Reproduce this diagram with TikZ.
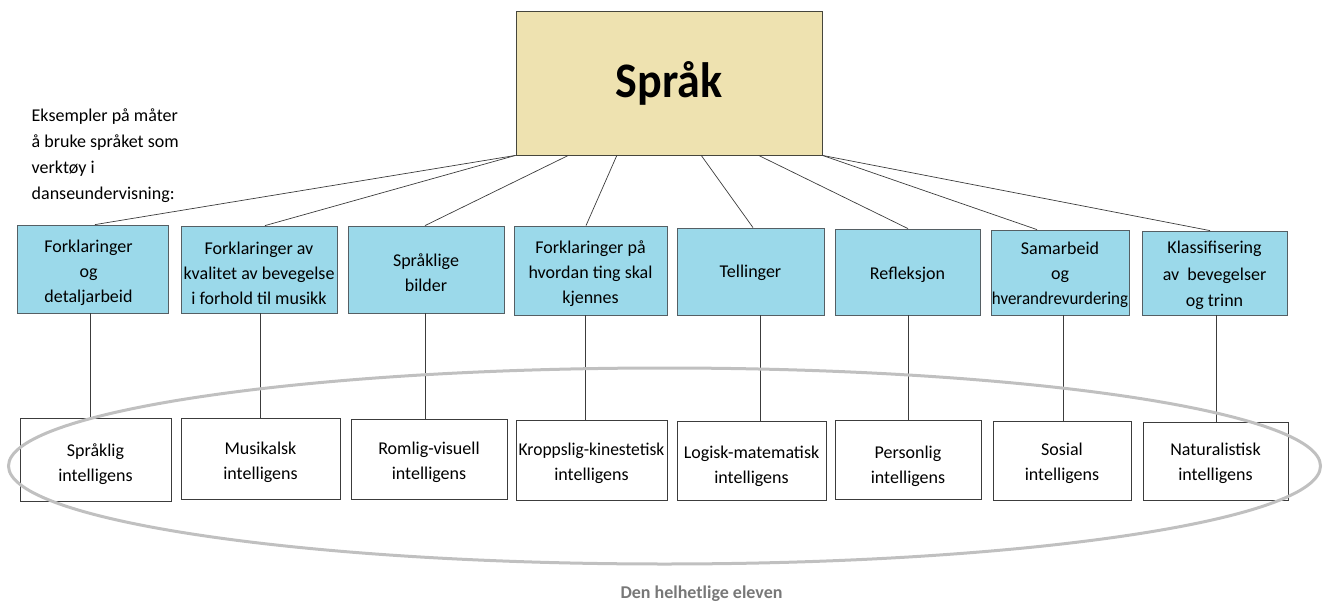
\documentclass[tikz,border=0pt]{standalone}
\usepackage{fontspec}
\setmainfont{Carlito}
\usetikzlibrary{calc}
\definecolor{topfill}{RGB}{238,226,176}
\definecolor{topline}{RGB}{70,70,60}
\definecolor{bluefill}{RGB}{155,217,234}
\definecolor{blueline}{RGB}{85,95,100}
\definecolor{intline}{RGB}{60,60,60}
\definecolor{connline}{RGB}{60,60,60}
\definecolor{ellgray}{RGB}{192,192,192}
\definecolor{labgray}{RGB}{120,120,120}
\begin{document}
\begin{tikzpicture}[x=1pt,y=-1pt,
  topbox/.style={draw=topline, fill=topfill, line width=0.8pt, minimum width=306pt, minimum height=144pt, inner sep=0pt, font=\fontsize{46}{50}\selectfont\bfseries},
  bluebox/.style={draw=blueline, fill=bluefill, line width=0.8pt, inner sep=0pt},
  intbox/.style={draw=intline, fill=white, line width=0.8pt, inner sep=0pt},
  boxtext/.style={inner sep=0pt, align=center, font=\fontsize{18}{25}\selectfont},
  conn/.style={draw=connline, line width=0.7pt},
  note/.style={inner sep=0pt, align=left, font=\fontsize{18}{25.7}\selectfont},
  whole/.style={draw=ellgray, line width=3pt},
  wholelabel/.style={inner sep=0pt, text=labgray, font=\fontsize{18}{22}\selectfont\bfseries}
]
\useasboundingbox (0,0) rectangle (1323,605);

% top box
\node[topbox] (top) at (669,83) {\scalebox{1}[1.08]{Språk}};

% note
\node[note, anchor=north west] (note) at (31.5,109) {Eksempler på måter\\å bruke språket som\\verktøy i\\danseundervisning:};

% blue boxes
\node[bluebox, minimum width=151pt, minimum height=88pt] (b1) at (92.5,269) {};
\node[bluebox, minimum width=156pt, minimum height=87pt] (b2) at (259,269.5) {};
\node[bluebox, minimum width=156pt, minimum height=87pt] (b3) at (426,269.5) {};
\node[bluebox, minimum width=153pt, minimum height=89pt] (b4) at (590.5,270.5) {};
\node[bluebox, minimum width=147pt, minimum height=87pt] (b5) at (750.5,271.5) {};
\node[bluebox, minimum width=145pt, minimum height=86pt] (b6) at (907.5,272) {};
\node[bluebox, minimum width=138pt, minimum height=85pt] (b7) at (1060,272.5) {};
\node[bluebox, minimum width=145pt, minimum height=84pt] (b8) at (1214.5,273) {};

\node[boxtext] (t1) at ([xshift=-4pt,yshift=-3.5pt]b1.center) {Forklaringer\\og\\detaljarbeid};
\node[boxtext] (t2) at ([yshift=-3.5pt]b2.center) {Forklaringer av\\kvalitet av bevegelse\\i forhold til musikk};
\node[boxtext] (t3) at ([yshift=-3.5pt]b3.center) {Språklige\\bilder};
\node[boxtext] (t4) at ([yshift=-3pt]b4.center) {Forklaringer på\\hvordan ting skal\\kjennes};
\node[boxtext] (t5) at ([yshift=-1.5pt]b5.center) {Tellinger};
\node[boxtext] (t6) at ([yshift=-2.5pt]b6.center) {Refleksjon};
\node[boxtext] (t7) at ([yshift=-2pt]b7.center) {Samarbeid\\og\\\scalebox{0.94}[1]{hverandrevurdering}};
\node[boxtext, font=\fontsize{18}{26.5}\selectfont] (t8) at ([yshift=-2.5pt]b8.center) {Klassifisering\\av\ \ bevegelser\\og trinn};

% intelligence boxes
\node[intbox, minimum width=151pt, minimum height=83pt] (i1) at (95.5,459.5) {};
\node[intbox, minimum width=159pt, minimum height=81pt] (i2) at (260.5,458.5) {};
\node[intbox, minimum width=156pt, minimum height=80pt] (i3) at (429,459) {};
\node[intbox, minimum width=151pt, minimum height=80pt] (i4) at (591.5,460) {};
\node[intbox, minimum width=149pt, minimum height=79pt] (i5) at (751.5,460.5) {};
\node[intbox, minimum width=146pt, minimum height=79pt] (i6) at (908,459.5) {};
\node[intbox, minimum width=138pt, minimum height=79pt] (i7) at (1062,460.5) {};
\node[intbox, minimum width=145pt, minimum height=78pt] (i8) at (1215.5,461) {};

\node[boxtext] (s1) at ([yshift=-4.5pt]i1.center) {Språklig\\intelligens};
\node[boxtext] (s2) at ([yshift=-4pt]i2.center) {Musikalsk\\intelligens};
\node[boxtext] (s3) at ([yshift=-3.5pt]i3.center) {Romlig-visuell\\intelligens};
\node[boxtext] (s4) at ([yshift=-3.5pt]i4.center) {\scalebox{0.97}[1]{Kroppslig-kinestetisk}\\intelligens};
\node[boxtext] (s5) at ([yshift=-5.5pt]i5.center) {Logisk-matematisk\\intelligens};
\node[boxtext] (s6) at ([yshift=-6.5pt]i6.center) {Personlig\\intelligens};
\node[boxtext] (s7) at ([yshift=-2.5pt]i7.center) {Sosial\\intelligens};
\node[boxtext] (s8) at ([yshift=-2.5pt]i8.center) {Naturalistisk\\intelligens};

% connectors from top box
\draw[conn] (top.south west) -- ([xshift=2.5pt]b1.north);
\draw[conn] (top.south west) -- ([xshift=6pt]b2.north);
\draw[conn] ($(top.south west)!0.172!(top.south east)$) -- ([xshift=-1pt]b3.north);
\draw[conn] ($(top.south west)!0.330!(top.south east)$) -- ([xshift=-4.5pt]b4.north);
\draw[conn] ($(top.south west)!0.605!(top.south east)$) -- ([xshift=2.5pt]b5.north);
\draw[conn] ($(top.south west)!0.792!(top.south east)$) -- ([xshift=0.5pt]b6.north);
\draw[conn] (top.south east) -- ([xshift=-23pt]b7.north);
\draw[conn] (top.south east) -- ([xshift=-4.5pt]b8.north);

% vertical connectors
\draw[conn] ([xshift=-2.5pt]b1.south) -- ([xshift=-2.5pt]b1.south |- i1.north);
\draw[conn] ([xshift=1pt]b2.south) -- ([xshift=1pt]b2.south |- i2.north);
\draw[conn] ([xshift=-1pt]b3.south) -- ([xshift=-1pt]b3.south |- i3.north);
\draw[conn] ([xshift=-5.5pt]b4.south) -- ([xshift=-5.5pt]b4.south |- i4.north);
\draw[conn] ([xshift=9.5pt]b5.south) -- ([xshift=9.5pt]b5.south |- i5.north);
\draw[conn] ([xshift=0.5pt]b6.south) -- ([xshift=0.5pt]b6.south |- i6.north);
\draw[conn] ([xshift=3pt]b7.south) -- ([xshift=3pt]b7.south |- i7.north);
\draw[conn] ([xshift=1.5pt]b8.south) -- ([xshift=1.5pt]b8.south |- i8.north);

% the whole pupil
\draw[whole] (664.5,466) ellipse [x radius=656pt, y radius=98pt];
\node[wholelabel, anchor=base] (lab) at (701.5,598) {Den helhetlige eleven};
\end{tikzpicture}
\end{document}
